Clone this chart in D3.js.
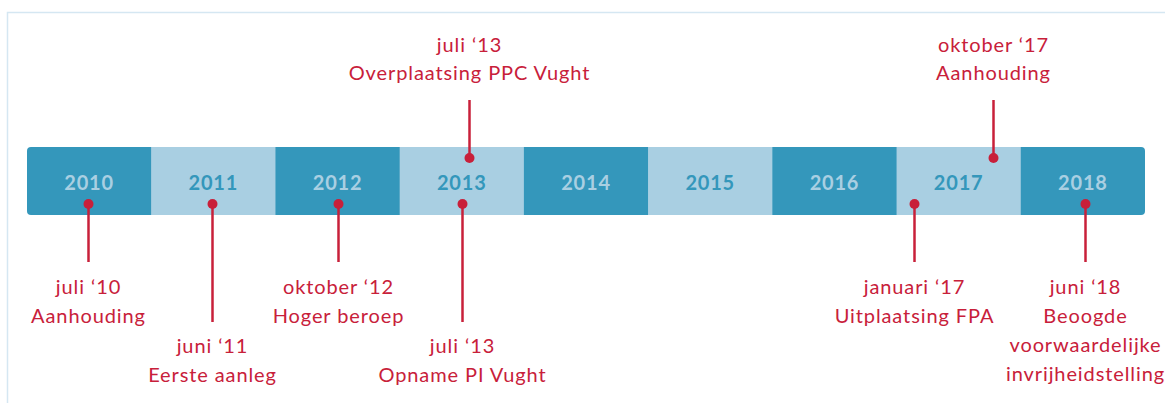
<!DOCTYPE html>
<html>
<head>
<meta charset="utf-8">
<script src="https://cdn.jsdelivr.net/npm/d3@7"></script>
<style>
  body { margin: 0; background: #fff; }
  svg { display: block; font-family: Lato, "Open Sans", sans-serif; }
</style>
</head>
<body>
<svg id="chart"></svg>
<script>
// Years shown as bands on the timeline
const years = [2010, 2011, 2012, 2013, 2014, 2015, 2016, 2017, 2018];

// Events: position within the timeline (in years), side/level and label lines
const eventPos = [2010.49, 2011.49, 2012.5, 2013.5, 2013.556, 2017.137, 2017.773, 2018.515];
const eventLevel = ["short", "long", "short", "long", "top", "short", "top", "short"];
const eventLines = [
  ["juli \u201810", "Aanhouding"],
  ["juni \u201811", "Eerste aanleg"],
  ["oktober \u201812", "Hoger beroep"],
  ["juli \u201813", "Opname PI Vught"],
  ["juli \u201813", "Overplaatsing PPC Vught"],
  ["januari \u201817", "Uitplaatsing FPA"],
  ["oktober \u201817", "Aanhouding"],
  ["juni \u201818", "Beoogde", "voorwaardelijke", "invrijheidstelling"]
];

const W = 1165, H = 403;
const C = { dark: "#3497bb", light: "#a9cfe2", red: "#c8203a", frame: "#d5e7f2" };
const bar = { top: 147, bottom: 215, left: 27, right: 1145 };

const svg = d3.select("#chart").attr("width", W).attr("height", H);

// Frame (runs off the right and bottom)
svg.append("path")
  .attr("d", `M7.5,${H + 5}V12.5H${W + 5}`)
  .attr("fill", "none").attr("stroke", C.frame).attr("stroke-width", 1.5);

const x = d3.scaleLinear().domain([years[0], years[years.length - 1] + 1]).range([bar.left, bar.right]);

// Rounded clip for the bar ends
svg.append("clipPath").attr("id", "barclip")
  .append("rect")
  .attr("x", bar.left).attr("y", bar.top)
  .attr("width", bar.right - bar.left).attr("height", bar.bottom - bar.top)
  .attr("rx", 4);

const band = svg.append("g").attr("clip-path", "url(#barclip)");
band.selectAll("rect").data(years).join("rect")
  .attr("x", d => x(d)).attr("y", bar.top)
  .attr("width", d => x(d + 1) - x(d) + 0.5).attr("height", bar.bottom - bar.top)
  .attr("fill", (d, i) => i % 2 ? C.light : C.dark);

svg.selectAll(".year").data(years).join("text")
  .attr("class", "year")
  .attr("x", d => x(d + 0.5)).attr("y", 190)
  .attr("text-anchor", "middle")
  .style("font-size", "20px").style("font-weight", "700").style("letter-spacing", "0.8px")
  .style("fill", (d, i) => i % 2 ? C.dark : C.light)
  .text(d => d);

// Level geometry: dot y, line end y, first label baseline
const level = {
  short: { dot: 204, end: 262, base: 294, step: 29 },
  long:  { dot: 204, end: 322, base: 353, step: 29 },
  top:   { dot: 158, end: 100, base: 52, step: 28 }
};

const ev = svg.append("g");
eventPos.forEach((p, i) => {
  const L = level[eventLevel[i]];
  const cx = Math.round(x(p)) + 0.5;
  ev.append("line")
    .attr("x1", cx).attr("x2", cx).attr("y1", L.dot).attr("y2", L.end)
    .attr("stroke", C.red).attr("stroke-width", 2.5);
  ev.append("circle").attr("cx", cx).attr("cy", L.dot).attr("r", 5).attr("fill", C.red);
  const t = ev.append("text")
    .attr("text-anchor", "middle")
    .style("font-size", "20px").style("letter-spacing", "0.9px").style("fill", C.red);
  eventLines[i].forEach((s, j) => {
    t.append("tspan").attr("x", cx).attr("y", L.base + j * L.step).text(s);
  });
});
</script>
</body>
</html>
